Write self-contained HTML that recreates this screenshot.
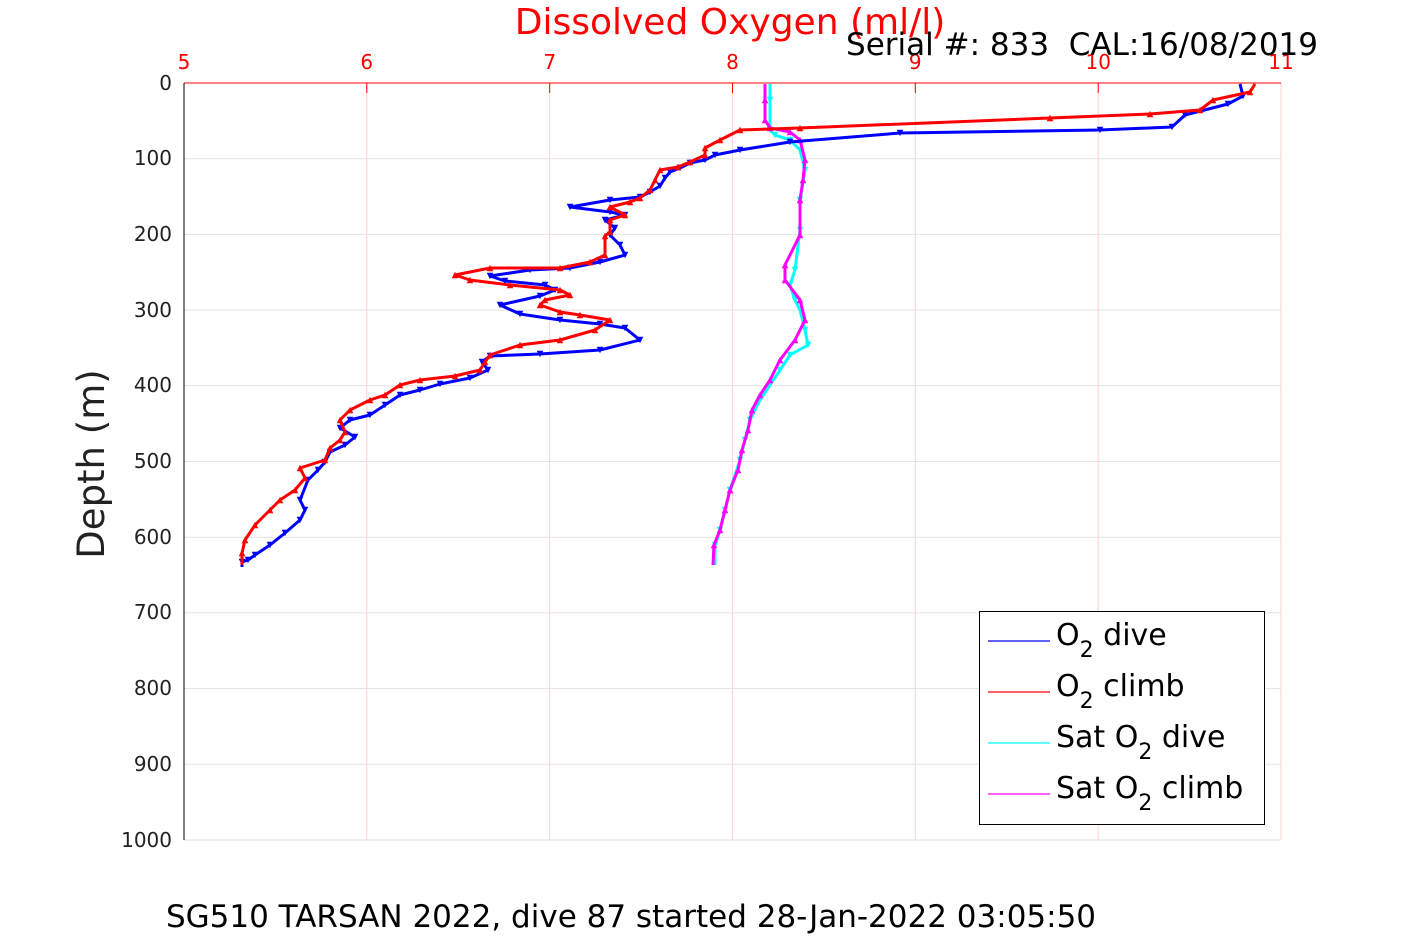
<!DOCTYPE html>
<html><head><style>body{margin:0;background:#fff}svg{display:block}</style></head><body>
<svg width="1417" height="945" xmlns="http://www.w3.org/2000/svg" font-family="DejaVu Sans, Liberation Sans, sans-serif">
<defs>
<marker id="tb" viewBox="0 0 6 6" refX="3" refY="3" markerWidth="2.2" markerHeight="2.2"><path d="M0,0 L6,0 L3,6z" fill="#00f"/></marker>
<marker id="tr" viewBox="0 0 6 6" refX="3" refY="3" markerWidth="2.2" markerHeight="2.2"><path d="M0,6 L6,6 L3,0z" fill="#f00"/></marker>
<marker id="tc" viewBox="0 0 6 6" refX="3" refY="3" markerWidth="2.2" markerHeight="2.2"><path d="M0,0 L6,0 L3,6z" fill="#0ff"/></marker>
<marker id="tm" viewBox="0 0 6 6" refX="3" refY="3" markerWidth="2.2" markerHeight="2.2"><path d="M0,6 L6,6 L3,0z" fill="#f0f"/></marker>
</defs>
<g stroke="#ffd0d0" stroke-width="1">
<line x1="366.8" y1="83" x2="366.8" y2="840"/><line x1="549.7" y1="83" x2="549.7" y2="840"/><line x1="732.5" y1="83" x2="732.5" y2="840"/><line x1="915.3" y1="83" x2="915.3" y2="840"/><line x1="1098.2" y1="83" x2="1098.2" y2="840"/><line x1="1281" y1="83" x2="1281" y2="840"/>
</g>
<g stroke="#e2e2e2" stroke-width="1">
<line x1="184" y1="158.7" x2="1281" y2="158.7"/><line x1="184" y1="234.4" x2="1281" y2="234.4"/><line x1="184" y1="310.1" x2="1281" y2="310.1"/><line x1="184" y1="385.8" x2="1281" y2="385.8"/><line x1="184" y1="461.5" x2="1281" y2="461.5"/><line x1="184" y1="537.2" x2="1281" y2="537.2"/><line x1="184" y1="612.9" x2="1281" y2="612.9"/><line x1="184" y1="688.6" x2="1281" y2="688.6"/><line x1="184" y1="764.3" x2="1281" y2="764.3"/><line x1="184" y1="840" x2="1281" y2="840"/>
</g>
<line x1="184" y1="83" x2="1281" y2="83" stroke="#f00"/>
<line x1="184" y1="83" x2="184" y2="840" stroke="#000"/>
<g stroke="#f00"><line x1="366.8" y1="83" x2="366.8" y2="93"/><line x1="549.7" y1="83" x2="549.7" y2="93"/><line x1="732.5" y1="83" x2="732.5" y2="93"/><line x1="915.3" y1="83" x2="915.3" y2="93"/><line x1="1098.2" y1="83" x2="1098.2" y2="93"/></g>
<g fill="#f00" font-size="20" text-anchor="middle">
<text x="184" y="69">5</text><text x="366.8" y="69">6</text><text x="549.7" y="69">7</text><text x="732.5" y="69">8</text><text x="915.3" y="69">9</text><text x="1098.2" y="69">10</text><text x="1281" y="69">11</text></g>
<g fill="#222" font-size="20" text-anchor="end">
<text x="172" y="90">0</text><text x="172" y="165">100</text><text x="172" y="241">200</text><text x="172" y="317">300</text><text x="172" y="392">400</text><text x="172" y="468">500</text><text x="172" y="544">600</text><text x="172" y="619">700</text><text x="172" y="695">800</text><text x="172" y="771">900</text><text x="172" y="847">1000</text></g>
<g fill="none" stroke-width="3" stroke-linejoin="round">
<polyline stroke="#0ff" marker-mid="url(#tc)" points="770,84 770,100 770,130 775,135 790,140 800,150 805,170 800,200 800,230 795,270 790,285 795,300 800,310 805,330 808,345 790,355 780,370 770,385 760,400 750,420 745,440 740,460 730,490 725,510 720,530 715,545 715,565"/>
<polyline stroke="#f0f" marker-mid="url(#tm)" points="765,84 765,100 765,120 770,128 790,132 800,140 805,160 803,180 800,200 800,235 785,265 785,280 800,300 805,320 795,340 780,360 770,380 760,395 752,410 748,430 742,450 738,470 730,490 725,510 720,530 714,545 713,565"/>
<polyline stroke="#00f" marker-mid="url(#tb)" points="1240,84 1243,96 1228,104 1185,115 1172,127 1100,130 900,133 790,142 740,150 715,155 705,160 690,163 680,168 670,172 665,178 660,186 650,192 640,197 610,200 570,207 610,212 625,215 605,220 615,228 610,235 620,245 625,255 600,262 570,268 530,270 490,276 505,281 545,285 555,290 540,296 500,305 520,314 560,320 600,324 625,328 640,340 600,350 540,354 490,356 482,362 488,370 470,378 440,384 420,390 400,395 385,405 370,415 350,420 340,428 355,437 345,445 330,452 325,462 318,470 308,480 300,500 305,510 300,520 285,533 270,545 255,555 248,560 242,562 242,567"/>
<polyline stroke="#f00" marker-mid="url(#tr)" points="1255,84 1250,92 1213,100 1200,110 1150,114 1050,118 800,128 740,130 720,140 705,148 705,155 690,162 678,167 660,170 655,180 650,190 640,198 630,202 610,207 625,215 610,220 610,232 605,236 605,255 590,262 560,268 490,268 455,275 470,280 510,285 560,290 570,295 545,300 540,305 560,312 580,315 610,320 595,330 560,340 520,345 490,355 485,362 480,370 455,376 420,380 400,385 385,395 370,400 350,410 340,420 345,432 340,440 330,448 325,460 300,468 305,478 295,490 280,500 270,510 255,525 245,540 242,553 242,565"/>
</g>
<rect x="979.5" y="611.5" width="285" height="213" fill="#fff" stroke="#000"/>
<g stroke-width="1.2"><line x1="988" y1="641" x2="1050" y2="641" stroke="#00f"/><line x1="988" y1="692" x2="1050" y2="692" stroke="#f00"/><line x1="988" y1="743" x2="1050" y2="743" stroke="#0ff"/><line x1="988" y1="794" x2="1050" y2="794" stroke="#f0f"/></g>
<g font-size="30" fill="#000" textLength="0">
<text x="1056" y="645">O<tspan font-size="22" dy="12">2</tspan><tspan dy="-12"> dive</tspan></text>
<text x="1056" y="696">O<tspan font-size="22" dy="12">2</tspan><tspan dy="-12"> climb</tspan></text>
<text x="1056" y="747">Sat O<tspan font-size="22" dy="12">2</tspan><tspan dy="-12"> dive</tspan></text>
<text x="1056" y="798">Sat O<tspan font-size="22" dy="12">2</tspan><tspan dy="-12"> climb</tspan></text>
</g>
<text x="730" y="34" fill="#f00" font-size="36" text-anchor="middle">Dissolved Oxygen (ml/l)</text>
<text x="1318" y="55" fill="#000" font-size="31" text-anchor="end" xml:space="preserve">Serial #: 833  CAL:16/08/2019</text>
<text transform="translate(104,464) rotate(-90)" font-size="37" text-anchor="middle" fill="#222">Depth (m)</text>
<text x="631" y="927" font-size="31" text-anchor="middle" fill="#000">SG510 TARSAN 2022, dive 87 started 28-Jan-2022 03:05:50</text>
</svg>
</body></html>
